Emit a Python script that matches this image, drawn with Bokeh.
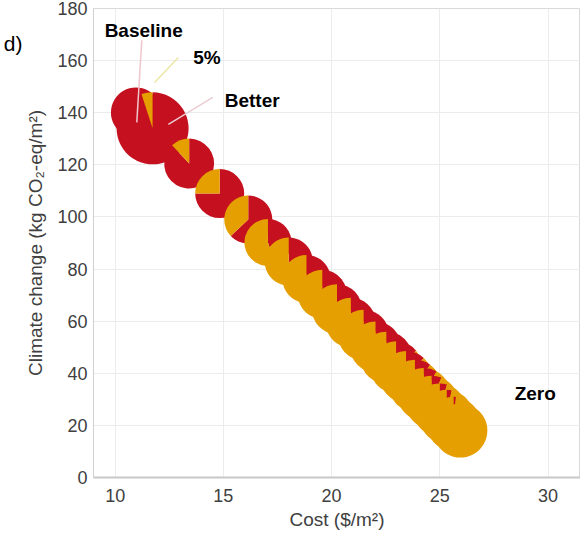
import math
from bokeh.plotting import figure
from bokeh.models import ColumnDataSource, FixedTicker, Label, LinearAxis
from bokeh.embed import file_html
from bokeh.resources import INLINE

# ---- data ----
cost = [10.96, 11.73, 13.42, 14.83, 16.15, 17.06, 18.02, 18.84, 19.57, 20.25, 20.89,
        21.48, 22.03, 22.53, 22.98, 23.44, 23.85, 24.26, 24.62, 24.99, 25.31, 25.63, 25.95]
climate = [140.1, 134.0, 120.5, 109.0, 99.0, 90.2, 82.9, 76.2, 70.3, 64.6, 59.4,
           54.6, 50.1, 46.0, 42.3, 38.6, 35.2, 31.9, 28.9, 25.9, 23.3, 20.6, 18.0]
share_new = [0.0, 0.05, 0.12, 0.25, 0.37, 0.55, 0.65, 0.68, 0.71, 0.74, 0.77,
             0.80, 0.82, 0.84, 0.86, 0.88, 0.90, 0.92, 0.94, 0.955, 0.97, 0.985, 1.0]
bubble = [1.0, 1.44, 1.0, 0.98, 0.96, 0.94, 0.96, 0.96, 0.98, 1.0, 1.0,
          1.02, 1.02, 1.04, 1.04, 1.04, 1.04, 1.06, 1.06, 1.06, 1.08, 1.08, 1.08]

x_ticks = [10, 15, 20, 25, 30]
y_ticks = [0, 20, 40, 60, 80, 100, 120, 140, 160, 180]

note_text = ["Baseline", "5%", "Better", "Zero"]
note_x = [11.32, 14.24, 16.33, 29.41]
note_y = [171.6, 161.2, 144.7, 32.2]
lead_x0 = [11.23, 12.92, 14.51]
lead_y0 = [167.8, 161.2, 145.9]
lead_x1 = [11.00, 11.82, 12.46]
lead_y1 = [136.3, 151.6, 135.5]
lead_col = ["#efc6cc", "#eee6a6", "#e9cdd2"]
panel_tag = "d)"
panel_tag_y = 166.5

RED = "#c5101f"
ORANGE = "#e69f00"
BASE_R = 25  # px radius for bubble == 1
FONT = "Liberation Sans"

# ---- build wedge table (red part then orange part per pie, in drawing order) ----
wx, wy, wr, ws, we, wc = [], [], [], [], [], []
top = math.pi / 2
eps = 1e-3
for cx, cy, f, b in zip(cost, climate, share_new, bubble):
    a = 2 * math.pi * f
    r = BASE_R * b
    if f < 1:
        wx.append(cx); wy.append(cy); wr.append(r)
        ws.append(top + a); we.append(top + 2 * math.pi - (eps if a == 0 else 0)); wc.append(RED)
    if f > 0:
        wx.append(cx); wy.append(cy); wr.append(r)
        ws.append(top); we.append(top + min(a, 2 * math.pi - eps)); wc.append(ORANGE)

src = ColumnDataSource(dict(x=wx, y=wy, r=wr, start=ws, end=we, color=wc))

p = figure(width=580, height=534, output_backend="svg", toolbar_location=None,
           x_range=(9.0, 31.5), y_range=(0, 180),
           min_border_left=86, min_border_right=0, min_border_top=8, min_border_bottom=57)
p.background_fill_color = "white"
p.border_fill_color = "white"
p.outline_line_color = "#d9d9d9"

p.wedge(x="x", y="y", radius="r", radius_units="screen", start_angle="start", end_angle="end",
        direction="anticlock", fill_color="color", line_color=None, source=src)

p.segment(x0=lead_x0, y0=lead_y0, x1=lead_x1, y1=lead_y1, line_color=lead_col, line_width=1.5)

for t, lx, ly in zip(note_text, note_x, note_y):
    p.add_layout(Label(x=lx, y=ly, text=t, text_align="center", text_baseline="middle",
                       text_font=FONT, text_font_style="bold", text_font_size="19px",
                       text_color="black"))

# axes
p.xaxis.ticker = FixedTicker(ticks=x_ticks)
p.yaxis.ticker = FixedTicker(ticks=y_ticks)
p.xaxis.axis_label = "Cost ($/m²)"
p.yaxis.axis_label = "Climate change (kg CO₂-eq/m²)"
for ax in (p.xaxis, p.yaxis):
    ax.major_tick_line_color = None
    ax.minor_tick_line_color = None
    ax.major_tick_out = 0
    ax.major_tick_in = 0
    ax.major_label_text_font = FONT
    ax.major_label_text_font_size = "18px"
    ax.major_label_text_color = "#404040"
    ax.axis_label_text_font = FONT
    ax.axis_label_text_font_size = "19px"
    ax.axis_label_text_font_style = "normal"
    ax.axis_label_text_color = "#404040"
p.xaxis.axis_line_color = "#c8c8c8"
p.xaxis.axis_line_width = 2
p.yaxis.axis_line_color = "#d0d0d0"
p.xaxis.major_label_standoff = 11
p.xaxis.axis_label_standoff = 4
p.yaxis.major_label_standoff = 6
p.yaxis.axis_label_standoff = 8

# panel tag "d)" as the single label of a line-less outer left axis
tag_axis = LinearAxis(ticker=FixedTicker(ticks=[panel_tag_y]),
                      major_label_overrides={panel_tag_y: panel_tag},
                      axis_line_color=None, major_tick_line_color=None,
                      minor_tick_line_color=None, major_tick_out=0, major_tick_in=0,
                      major_label_standoff=0, major_label_text_font=FONT,
                      major_label_text_font_size="21px", major_label_text_color="black")
p.add_layout(tag_axis, "left")

p.xgrid.grid_line_color = "#ececec"
p.ygrid.grid_line_color = "#ececec"

open("out.html", "w").write(file_html(p, INLINE))
